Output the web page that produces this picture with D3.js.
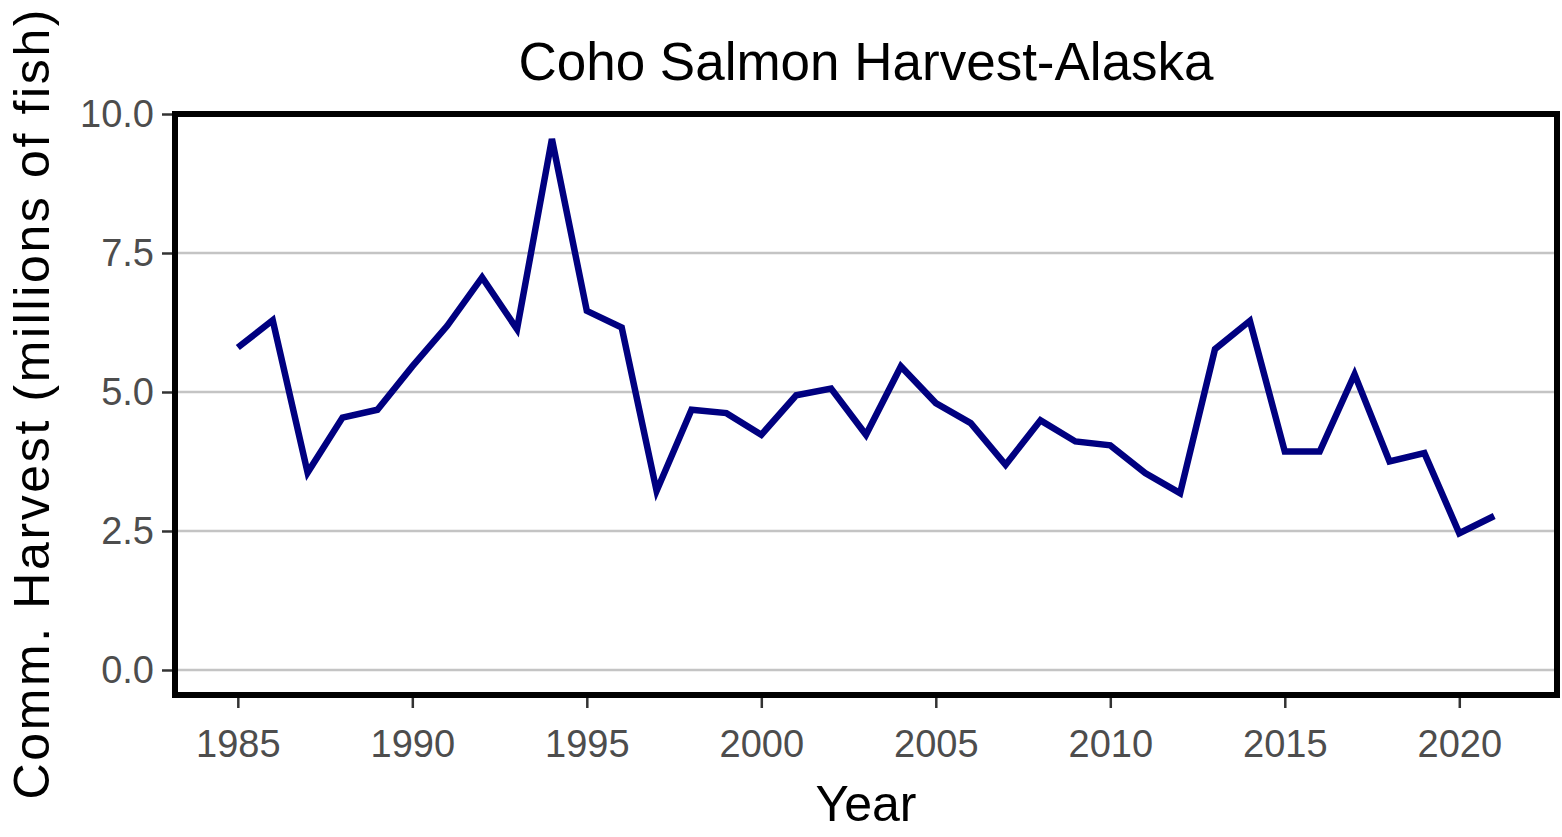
<!DOCTYPE html>
<html>
<head>
<meta charset="utf-8">
<script src="https://cdn.jsdelivr.net/npm/d3@7"></script>
<style>
  html, body { margin: 0; padding: 0; background: #fff; }
  svg { display: block; }
  text { font-family: "Liberation Sans", Arial, sans-serif; }
</style>
</head>
<body>
<svg id="chart" width="1562" height="837"></svg>
<script>
// Alaska commercial coho salmon harvest, millions of fish
const years = d3.range(1985, 2022);
const harvest = [
  5.80, 6.29, 3.55, 4.54, 4.68, 5.46, 6.19, 7.06, 6.13, 9.55,
  6.46, 6.16, 3.22, 4.68, 4.62, 4.23, 4.94, 5.06, 4.23, 5.46,
  4.80, 4.44, 3.69, 4.49, 4.11, 4.04, 3.54, 3.18, 5.77, 6.28,
  3.93, 3.93, 5.32, 3.75, 3.90, 2.46, 2.77
];
const xTicks = [1985, 1990, 1995, 2000, 2005, 2010, 2015, 2020];
const yTicks = [0, 2.5, 5, 7.5, 10];

const titleText = "Coho Salmon Harvest-Alaska";
const xTitle = "Year";
const yTitle = "Comm. Harvest (millions of fish)";

const data = years.map((yr, i) => ({ year: yr, value: harvest[i] }));

const svg = d3.select("#chart");
const panel = { left: 175, right: 1557, top: 114, bottom: 695 };
const border = 6;

const x = d3.scaleLinear().domain([1983.2, 2022.8]).range([panel.left, panel.right]);
const y = d3.scaleLinear().domain([-0.45, 10]).range([panel.bottom, panel.top]);

// horizontal gridlines
svg.append("g")
  .selectAll("line")
  .data(yTicks)
  .join("line")
  .attr("x1", panel.left).attr("x2", panel.right)
  .attr("y1", d => y(d)).attr("y2", d => y(d))
  .attr("stroke", "#c4c4c4")
  .attr("stroke-width", 2.5);

// series line
const line = d3.line().x(d => x(d.year)).y(d => y(d.value));
svg.append("path")
  .datum(data)
  .attr("d", line)
  .attr("fill", "none")
  .attr("stroke", "#000080")
  .attr("stroke-width", 6.5)
  .attr("stroke-linejoin", "miter")
  .attr("stroke-linecap", "butt");

// panel border
svg.append("rect")
  .attr("x", panel.left).attr("y", panel.top)
  .attr("width", panel.right - panel.left)
  .attr("height", panel.bottom - panel.top)
  .attr("fill", "none")
  .attr("stroke", "#000")
  .attr("stroke-width", border);

// x axis
const xAxis = svg.append("g")
  .attr("transform", `translate(0,${panel.bottom + border / 2})`)
  .call(d3.axisBottom(x).tickValues(xTicks).tickFormat(d3.format("d")).tickSize(10).tickPadding(22));
xAxis.select(".domain").remove();
xAxis.selectAll(".tick line").attr("stroke", "#333").attr("stroke-width", 2.5);
xAxis.selectAll(".tick text")
  .attr("fill", "#4d4d4d")
  .style("font-size", "38px")
  .style("font-family", "'Liberation Sans', Arial, sans-serif");

// y axis
const yAxis = svg.append("g")
  .attr("transform", `translate(${panel.left - border / 2},0)`)
  .call(d3.axisLeft(y).tickValues(yTicks).tickFormat(d3.format(".1f")).tickSize(10).tickPadding(8));
yAxis.select(".domain").remove();
yAxis.selectAll(".tick line").attr("stroke", "#333").attr("stroke-width", 2.5);
yAxis.selectAll(".tick text")
  .attr("fill", "#4d4d4d")
  .style("font-size", "38px")
  .style("font-family", "'Liberation Sans', Arial, sans-serif");

// title
svg.append("text")
  .attr("x", (panel.left + panel.right) / 2)
  .attr("y", 80)
  .attr("text-anchor", "middle")
  .attr("fill", "#000")
  .style("font-size", "53px")
  .text(titleText);

// axis titles
svg.append("text")
  .attr("x", (panel.left + panel.right) / 2)
  .attr("y", 821)
  .attr("text-anchor", "middle")
  .attr("fill", "#000")
  .style("font-size", "50px")
  .text(xTitle);

svg.append("text")
  .attr("transform", `translate(49,${(panel.top + panel.bottom) / 2}) rotate(-90)`)
  .attr("text-anchor", "middle")
  .attr("fill", "#000")
  .style("font-size", "50px")
  .attr("textLength", 790)
  .attr("lengthAdjust", "spacing")
  .text(yTitle);
</script>
</body>
</html>
